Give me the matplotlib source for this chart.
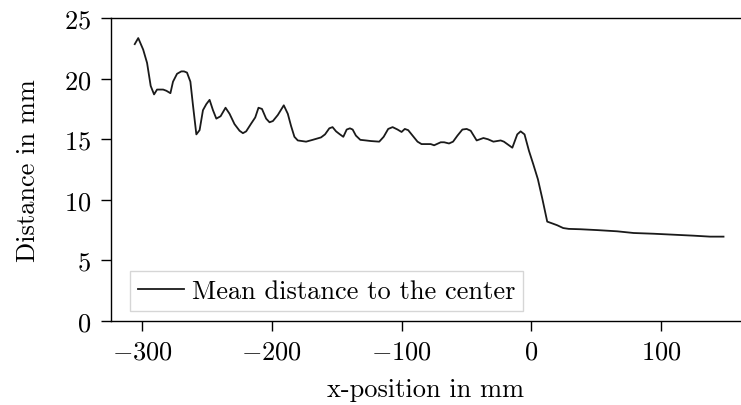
import numpy as np
import matplotlib
matplotlib.use("Agg")
import matplotlib.pyplot as plt

plt.rcParams.update({
    "font.family": "serif",
    "font.serif": ["cmr10"],
    "mathtext.fontset": "cm",
    "axes.formatter.use_mathtext": True,
    "axes.unicode_minus": True,
    "font.size": 19,
})

# Mean distance of the points to the center
x_pos = [-305.7, -303.0, -299.2, -296.2, -293.4, -290.8, -288.5, -283.8, -281.3, -278.2,
         -276.2, -273.1, -269.8, -267.7, -265.4, -262.8, -260.8, -258.2, -255.7, -253.1,
         -250.5, -248.0, -245.4, -242.8, -239.5, -235.7, -232.6, -228.8, -224.9, -222.3,
         -219.8, -215.9, -212.8, -210.3, -207.6, -204.4, -201.8, -199.2, -195.4, -190.8,
         -187.7, -185.2, -182.6, -180.0, -173.6, -168.5, -162.1, -159.0, -155.7, -153.2,
         -150.5, -147.5, -144.9, -142.3, -139.8, -137.7, -135.2, -131.8, -127.5, -123.6,
         -117.2, -113.8, -110.3, -106.9, -103.1, -100.0, -97.5, -94.9, -91.5, -87.7,
         -84.6, -77.5, -74.9, -69.8, -67.2, -63.4, -60.3, -56.9, -53.1, -49.8,
         -46.7, -42.1, -36.9, -33.4, -29.2, -23.6, -21.1, -17.2, -14.6, -10.8,
         -8.2, -5.2, -1.8, 1.5, 5.1, 8.5, 12.3, 16.2, 20.0, 24.6,
         28.9, 37.9, 50.8, 66.2, 78.9, 94.3, 109.7, 125.1, 137.9, 148.2]
mean_dist = [22.85, 23.35, 22.4, 21.3, 19.4, 18.7, 19.1, 19.1, 19.0, 18.8,
             19.75, 20.4, 20.6, 20.6, 20.5, 19.75, 17.8, 15.4, 15.75, 17.4,
             17.9, 18.25, 17.4, 16.7, 16.9, 17.6, 17.1, 16.25, 15.7, 15.5,
             15.65, 16.3, 16.8, 17.6, 17.5, 16.7, 16.4, 16.5, 17.0, 17.8,
             17.1, 16.1, 15.2, 14.9, 14.8, 14.95, 15.15, 15.4, 15.9, 16.0,
             15.65, 15.4, 15.2, 15.8, 15.9, 15.8, 15.3, 14.95, 14.9, 14.85,
             14.8, 15.2, 15.85, 16.0, 15.8, 15.6, 15.85, 15.75, 15.3, 14.8,
             14.6, 14.6, 14.5, 14.75, 14.75, 14.65, 14.8, 15.3, 15.8, 15.85,
             15.7, 14.9, 15.1, 15.0, 14.8, 14.9, 14.8, 14.5, 14.3, 15.4,
             15.65, 15.4, 14.05, 12.95, 11.7, 10.1, 8.2, 8.05, 7.9, 7.67,
             7.6, 7.57, 7.5, 7.4, 7.26, 7.2, 7.12, 7.04, 6.96, 6.96]

x_ticks = [-300, -200, -100, 0, 100]
y_ticks = [0, 5, 10, 15, 20, 25]

fig = plt.figure(figsize=(7.41, 4.06), dpi=100)
ax = fig.add_axes([0.1498, 0.207, 0.849, 0.746])

ax.plot(x_pos, mean_dist, color="#1a1a1a", linewidth=1.3, label="Mean distance to the center")

ax.set_xlim(-324, 161)
ax.set_ylim(0, 25)
ax.set_xticks(x_ticks)
ax.set_yticks(y_ticks)
ax.tick_params(direction="out", length=7.2, width=1.0, pad=6)
ax.tick_params(axis="y", pad=7)

ax.spines["right"].set_visible(False)
for s in ["left", "bottom", "top"]:
    ax.spines[s].set_linewidth(1.0)

ax.set_xlabel("x-position in mm", labelpad=10)
ax.set_ylabel("Distance in mm", labelpad=17)

leg = ax.legend(loc="lower left", bbox_to_anchor=(0.03, 0.033), borderaxespad=0,
                fancybox=False, handlelength=1.75, handletextpad=0.3, borderpad=0.3)
leg.get_frame().set_edgecolor("#cccccc")
leg.get_frame().set_linewidth(1.0)

fig.savefig("out.png", dpi=100)
